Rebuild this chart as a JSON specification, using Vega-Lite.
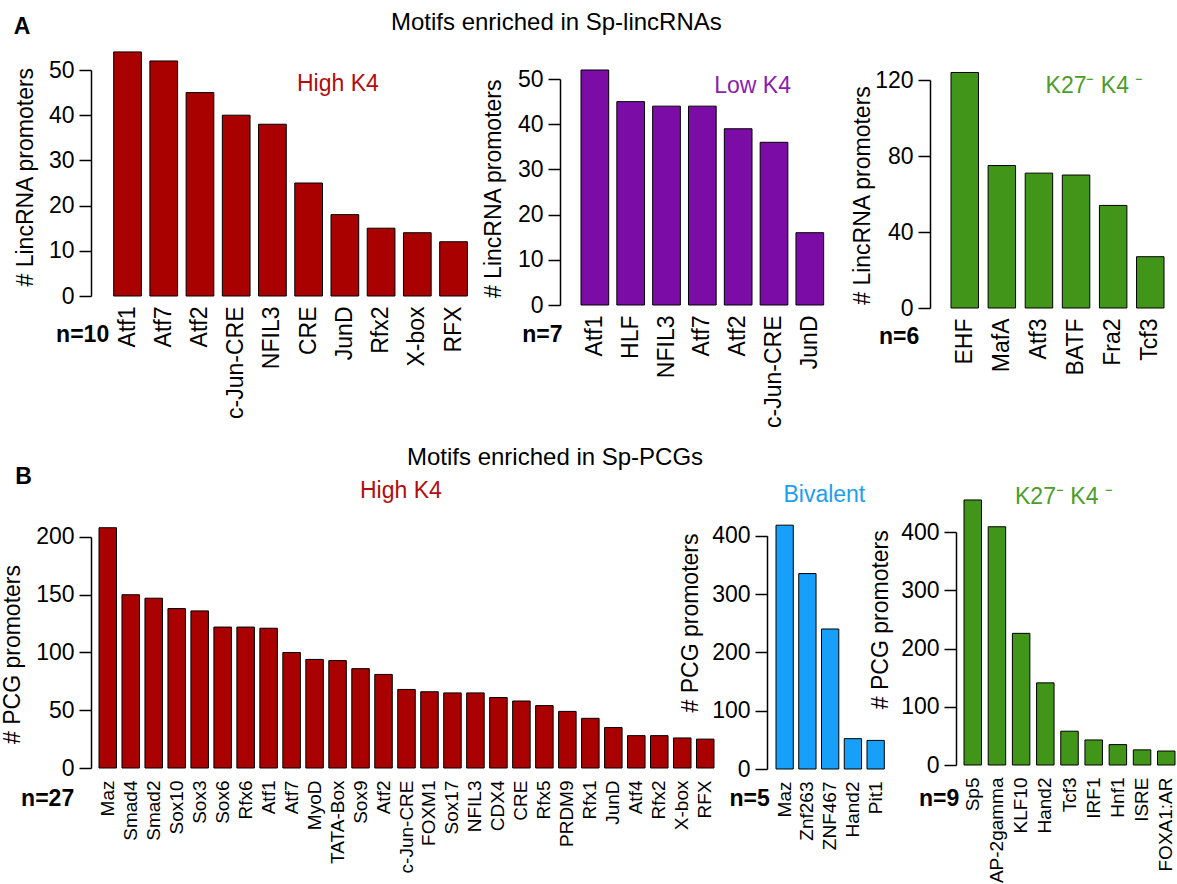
{
  "$schema": "https://vega.github.io/schema/vega-lite/v6.json",
  "background": "white",
  "padding": {"left": 1, "top": 10, "right": 0, "bottom": 0},
  "config": {
    "font": "Liberation Sans",
    "view": {"stroke": null},
    "axis": {"domainColor": "#000", "tickColor": "#000", "labelColor": "#000", "titleColor": "#000", "grid": false, "labelOverlap": false, "labelFont": "Liberation Sans", "titleFont": "Liberation Sans", "titleFontWeight": "normal", "domainWidth": 1.5, "tickWidth": 1.5},
    "axisY": {"labelFontSize": 23, "titleFontSize": 23, "tickSize": 12, "labelPadding": 5, "titleAngle": 270, "titleBaseline": "alphabetic", "titleAlign": "center"},
    "axisX": {"domain": false, "ticks": false, "tickSize": 0, "labelAngle": 270, "titleFontWeight": "bold", "titleFontSize": 23, "titleAlign": "right", "titleBaseline": "alphabetic", "titleAngle": 0},
    "title": {"font": "Liberation Sans", "color": "#000", "fontWeight": "normal", "fontSize": 23, "anchor": "start", "frame": "group", "offset": 0, "baseline": "alphabetic"}
  },
  "datasets": {
    "a1": [
      {"motif": "Atf1", "count": 54}, {"motif": "Atf7", "count": 52}, {"motif": "Atf2", "count": 45}, {"motif": "c-Jun-CRE", "count": 40}, {"motif": "NFIL3", "count": 38},
      {"motif": "CRE", "count": 25}, {"motif": "JunD", "count": 18}, {"motif": "Rfx2", "count": 15}, {"motif": "X-box", "count": 14}, {"motif": "RFX", "count": 12}
    ],
    "a2": [
      {"motif": "Atf1", "count": 52}, {"motif": "HLF", "count": 45}, {"motif": "NFIL3", "count": 44}, {"motif": "Atf7", "count": 44}, {"motif": "Atf2", "count": 39},
      {"motif": "c-Jun-CRE", "count": 36}, {"motif": "JunD", "count": 16}
    ],
    "a3": [
      {"motif": "EHF", "count": 124}, {"motif": "MafA", "count": 75}, {"motif": "Atf3", "count": 71}, {"motif": "BATF", "count": 70}, {"motif": "Fra2", "count": 54}, {"motif": "Tcf3", "count": 27}
    ],
    "b1": [
      {"motif": "Maz", "count": 208}, {"motif": "Smad4", "count": 150}, {"motif": "Smad2", "count": 147}, {"motif": "Sox10", "count": 138}, {"motif": "Sox3", "count": 136},
      {"motif": "Sox6", "count": 122}, {"motif": "Rfx6", "count": 122}, {"motif": "Atf1", "count": 121}, {"motif": "Atf7", "count": 100}, {"motif": "MyoD", "count": 94},
      {"motif": "TATA-Box", "count": 93}, {"motif": "Sox9", "count": 86}, {"motif": "Atf2", "count": 81}, {"motif": "c-Jun-CRE", "count": 68}, {"motif": "FOXM1", "count": 66},
      {"motif": "Sox17", "count": 65}, {"motif": "NFIL3", "count": 65}, {"motif": "CDX4", "count": 61}, {"motif": "CRE", "count": 58}, {"motif": "Rfx5", "count": 54},
      {"motif": "PRDM9", "count": 49}, {"motif": "Rfx1", "count": 43}, {"motif": "JunD", "count": 35}, {"motif": "Atf4", "count": 28}, {"motif": "Rfx2", "count": 28},
      {"motif": "X-box", "count": 26}, {"motif": "RFX", "count": 25}
    ],
    "b2": [
      {"motif": "Maz", "count": 418}, {"motif": "Znf263", "count": 335}, {"motif": "ZNF467", "count": 240}, {"motif": "Hand2", "count": 52}, {"motif": "Pit1", "count": 49}
    ],
    "b3": [
      {"motif": "Sp5", "count": 455}, {"motif": "AP-2gamma", "count": 409}, {"motif": "KLF10", "count": 226}, {"motif": "Hand2", "count": 141}, {"motif": "Tcf3", "count": 58},
      {"motif": "IRF1", "count": 43}, {"motif": "Hnf1", "count": 35}, {"motif": "ISRE", "count": 26}, {"motif": "FOXA1:AR", "count": 24}
    ],
    "lab_high": [{"label": "High K4"}],
    "lab_low": [{"label": "Low K4"}],
    "lab_k27": [{"label": "K27⁻ K4 ⁻"}],
    "lab_biv": [{"label": "Bivalent"}]
  },
  "spacing": 17,
  "vconcat": [
    {
      "title": {"text": "Motifs enriched in Sp-lincRNAs", "fontSize": 24, "dx": 292, "dy": 22.3},
      "bounds": "flush",
      "spacing": 113,
      "hconcat": [
        {
          "width": 369, "height": 226,
          "title": {"text": "A", "fontWeight": "bold", "dx": -85.3, "dy": -8},
          "layer": [
            {
              "data": {"name": "a1"},
              "mark": {"type": "bar", "color": "#A90000", "stroke": "#000", "strokeWidth": 1},
              "encoding": {
                "x": {"field": "motif", "type": "nominal", "sort": null, "scale": {"paddingInner": 0.235, "paddingOuter": 0.211, "align": 0.96},
                      "axis": {"title": "n=10", "titleX": 9.7, "titleY": 45.7, "labelFontSize": 23, "labelPadding": 10}},
                "y": {"field": "count", "type": "quantitative", "scale": {"domain": [0, 50], "nice": false},
                      "axis": {"title": "# LincRNA promoters", "values": [0, 10, 20, 30, 40, 50], "offset": 8, "titleX": -58.5, "titleY": 106.7}}
              }
            },
            {
              "data": {"name": "lab_high"},
              "mark": {"type": "text", "align": "left", "baseline": "alphabetic", "fontSize": 23, "color": "#B20C0C"},
              "encoding": {
                "x": {"datum": "CRE", "type": "nominal", "bandPosition": 0.08},
                "y": {"datum": 45.4, "type": "quantitative"},
                "text": {"field": "label"}
              }
            }
          ]
        },
        {
          "width": 257, "height": 235,
          "layer": [
            {
              "data": {"name": "a2"},
              "mark": {"type": "bar", "color": "#7B0DA6", "stroke": "#000", "strokeWidth": 1},
              "encoding": {
                "x": {"field": "motif", "type": "nominal", "sort": null, "scale": {"paddingInner": 0.227, "paddingOuter": 0.2, "align": 0},
                      "axis": {"title": "n=7", "titleX": -19, "titleY": 36.7, "labelFontSize": 23, "labelPadding": 10}},
                "y": {"field": "count", "type": "quantitative", "scale": {"domain": [0, 52], "nice": false},
                      "axis": {"title": "# LincRNA promoters", "values": [0, 10, 20, 30, 40, 50], "offset": 21, "domainDash": [226, 2000], "titleX": -59.8, "titleY": 118.3}}
              }
            },
            {
              "data": {"name": "lab_low"},
              "mark": {"type": "text", "align": "left", "baseline": "alphabetic", "fontSize": 23, "color": "#8B1DB0"},
              "encoding": {
                "x": {"datum": "Atf7", "type": "nominal", "bandPosition": 0.93},
                "y": {"datum": 47, "type": "quantitative"},
                "text": {"field": "label"}
              }
            }
          ]
        },
        {
          "width": 213, "height": 238,
          "layer": [
            {
              "data": {"name": "a3"},
              "mark": {"type": "bar", "color": "#41961A", "stroke": "#000", "strokeWidth": 1},
              "encoding": {
                "x": {"field": "motif", "type": "nominal", "sort": null, "scale": {"paddingInner": 0.26, "paddingOuter": 0},
                      "axis": {"title": "n=6", "titleX": -32.3, "titleY": 35.3, "labelFontSize": 23, "labelPadding": 10}},
                "y": {"field": "count", "type": "quantitative", "scale": {"domain": [0, 125.3], "nice": false},
                      "axis": {"title": "# LincRNA promoters", "values": [0, 20, 40, 60, 80, 100, 120], "offset": 21, "domainDash": [228, 2000], "titleX": -60.7, "titleY": 125}}
              }
            },
            {
              "data": {"name": "lab_k27"},
              "mark": {"type": "text", "align": "left", "baseline": "alphabetic", "fontSize": 23, "color": "#4A9D2B"},
              "encoding": {
                "x": {"datum": "Atf3", "type": "nominal", "bandPosition": 0.74},
                "y": {"datum": 113.2, "type": "quantitative"},
                "text": {"field": "label"}
              }
            }
          ]
        }
      ]
    },
    {
      "title": {"text": "Motifs enriched in Sp-PCGs", "fontSize": 24, "dx": 308, "dy": 7.4},
      "bounds": "flush",
      "spacing": 62,
      "hconcat": [
        {
          "width": 615, "height": 236,
          "title": {"text": "B", "fontWeight": "bold", "dx": -83.7, "dy": 13.3},
          "layer": [
            {
              "data": {"name": "b1"},
              "mark": {"type": "bar", "color": "#A90000", "stroke": "#000", "strokeWidth": 1},
              "encoding": {
                "x": {"field": "motif", "type": "nominal", "sort": null, "scale": {"paddingInner": 0.238, "paddingOuter": 0},
                      "axis": {"title": "n=27", "titleX": -25.3, "titleY": 37, "labelFontSize": 19, "labelPadding": 12}},
                "y": {"field": "count", "type": "quantitative", "scale": {"domain": [0, 204.3], "nice": false},
                      "axis": {"title": "# PCG promoters", "values": [0, 50, 100, 150, 200], "offset": 8, "domainDash": [231, 2000], "titleX": -71.3, "titleY": 122}}
              }
            },
            {
              "data": {"name": "lab_high"},
              "mark": {"type": "text", "align": "left", "baseline": "alphabetic", "fontSize": 23, "color": "#B20C0C"},
              "encoding": {
                "x": {"datum": "Sox9", "type": "nominal", "bandPosition": 0.47},
                "y": {"datum": 233.8, "type": "quantitative"},
                "text": {"field": "label"}
              }
            }
          ]
        },
        {
          "width": 126, "height": 237,
          "layer": [
            {
              "data": {"name": "b2"},
              "mark": {"type": "bar", "color": "#16A0FA", "stroke": "#000", "strokeWidth": 1},
              "encoding": {
                "x": {"field": "motif", "type": "nominal", "sort": null, "scale": {"paddingInner": 0.24, "paddingOuter": 0.389, "align": 0},
                      "axis": {"title": "n=5", "titleX": -6.7, "titleY": 36, "labelFontSize": 19, "labelPadding": 12}},
                "y": {"field": "count", "type": "quantitative", "scale": {"domain": [0, 406.3], "nice": false},
                      "axis": {"title": "# PCG promoters", "values": [0, 100, 200, 300, 400], "offset": 9, "domainDash": [233.3, 2000], "titleX": -69.8, "titleY": 90.5}}
              }
            },
            {
              "data": {"name": "lab_biv"},
              "mark": {"type": "text", "align": "left", "baseline": "alphabetic", "fontSize": 23, "color": "#1E9EF0"},
              "encoding": {
                "x": {"datum": "Maz", "type": "nominal", "bandPosition": 0.43},
                "y": {"datum": 458.2, "type": "quantitative"},
                "text": {"field": "label"}
              }
            }
          ]
        },
        {
          "width": 211, "height": 233,
          "layer": [
            {
              "data": {"name": "b3"},
              "mark": {"type": "bar", "color": "#41961A", "stroke": "#000", "strokeWidth": 1},
              "encoding": {
                "x": {"field": "motif", "type": "nominal", "sort": null, "scale": {"paddingInner": 0.277, "paddingOuter": 0},
                      "axis": {"title": "n=9", "titleX": -5.3, "titleY": 40, "labelFontSize": 19, "labelPadding": 12}},
                "y": {"field": "count", "type": "quantitative", "scale": {"domain": [0, 400], "nice": false},
                      "axis": {"title": "# PCG promoters", "values": [0, 100, 200, 300, 400], "offset": 8, "titleX": -68.2, "titleY": 87.2}}
              }
            },
            {
              "data": {"name": "lab_k27"},
              "mark": {"type": "text", "align": "left", "baseline": "alphabetic", "fontSize": 23, "color": "#4A9D2B"},
              "encoding": {
                "x": {"datum": "KLF10", "type": "nominal", "bandPosition": 0.15},
                "y": {"datum": 448.7, "type": "quantitative"},
                "text": {"field": "label"}
              }
            }
          ]
        }
      ]
    }
  ]
}
